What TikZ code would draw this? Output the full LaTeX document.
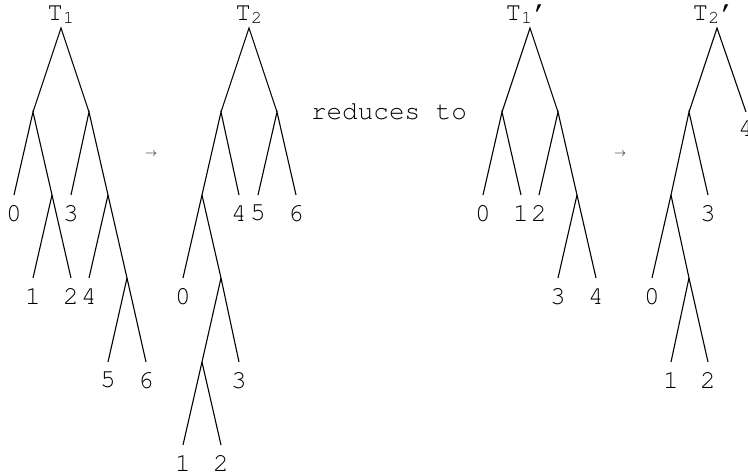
\documentclass[tikz,border=0pt]{standalone}
\usepackage[T1]{fontenc}
\usepackage{courier}
\usepackage{tikz}
\usetikzlibrary{positioning}

\begin{document}
\begin{tikzpicture}[x=1pt, y=-1pt, line width=1.1pt,
    every node/.style={font=\ttfamily\fontsize{26}{30}\selectfont},
    leaf/.style={anchor=north, inner xsep=0pt, inner ysep=1pt, outer ysep=9pt},
    title/.style={anchor=base, inner sep=0pt},
    maps/.style={font=\fontsize{13}{15}\selectfont, inner sep=0pt}]
  \useasboundingbox (0,0) rectangle (748,475);

  % T_1
  \coordinate (ra) at (61,28);
  \coordinate (ra1) at (33,112);
  \coordinate (ra2) at (89,112);
  \coordinate (ra3) at (52,195);
  \coordinate (ra4) at (108,195);
  \coordinate (ra5) at (127,278);
  \node[title] (ta) at (61,20) {T\textsubscript{1}};
  \node[leaf] (a0) at (14,195) {0};
  \node[leaf] (a1) at (33,278) {1};
  \node[leaf] (a2) at (71,278) {2};
  \node[leaf] (a3) at (71,195) {3};
  \node[leaf] (a4) at (89,278) {4};
  \node[leaf] (a5) at (108,362) {5};
  \node[leaf] (a6) at (146,362) {6};
  \draw (ra1) -- (ra) -- (ra2);
  \draw (a0.north) -- (ra1) -- (ra3) -- (a2.north);
  \draw (a1.north) -- (ra3);
  \draw (a3.north) -- (ra2) -- (ra4) -- (ra5) -- (a6.north);
  \draw (a4.north) -- (ra4);
  \draw (a5.north) -- (ra5);

  \node[maps] (m1) at (151,154) {$\rightarrow$};

  % T_2
  \coordinate (rb) at (249,28);
  \coordinate (rb1) at (221,112);
  \coordinate (rb2) at (277,112);
  \coordinate (rb3) at (202,195);
  \coordinate (rb4) at (221,278);
  \coordinate (rb5) at (202,362);
  \node[title] (tb) at (249,20) {T\textsubscript{2}};
  \node[leaf] (b4) at (239,195) {4};
  \node[leaf] (b5) at (258,195) {5};
  \node[leaf] (b6) at (296,195) {6};
  \node[leaf] (b0) at (183,278) {0};
  \node[leaf] (b3) at (239,362) {3};
  \node[leaf] (b1) at (183,445) {1};
  \node[leaf] (b2) at (221,445) {2};
  \draw (rb1) -- (rb) -- (rb2);
  \draw (b4.north) -- (rb1) -- (rb3) -- (b0.north);
  \draw (rb3) -- (rb4) -- (b3.north);
  \draw (rb4) -- (rb5) -- (b1.north);
  \draw (rb5) -- (b2.north);
  \draw (b5.north) -- (rb2) -- (b6.north);

  \node[title] (red) at (389,119) {reduces to};

  % T_1'
  \coordinate (rc) at (530,28);
  \coordinate (rc1) at (502,112);
  \coordinate (rc2) at (558,112);
  \coordinate (rc3) at (577,195);
  \node[title] (tc) at (527,20) {T\textsubscript{1}'};
  \node[leaf] (c0) at (483,195) {0};
  \node[leaf] (c1) at (521,195) {1};
  \node[leaf] (c2) at (539,195) {2};
  \node[leaf] (c3) at (558,278) {3};
  \node[leaf] (c4) at (596,278) {4};
  \draw (rc1) -- (rc) -- (rc2);
  \draw (c0.north) -- (rc1) -- (c1.north);
  \draw (c2.north) -- (rc2) -- (rc3) -- (c4.north);
  \draw (c3.north) -- (rc3);

  \node[maps] (m2) at (620,154) {$\rightarrow$};

  % T_2'
  \coordinate (rd) at (717,28);
  \coordinate (rd1) at (689,112);
  \coordinate (rd2) at (671,195);
  \coordinate (rd3) at (689,278);
  \node[title] (td) at (714,20) {T\textsubscript{2}'};
  \node[leaf, outer ysep=7pt] (d4) at (746,112) {4};
  \node[leaf] (d3) at (708,195) {3};
  \node[leaf] (d0) at (652,278) {0};
  \node[leaf] (d1) at (671,362) {1};
  \node[leaf] (d2) at (708,362) {2};
  \draw (rd1) -- (rd) -- (d4.north);
  \draw (d3.north) -- (rd1) -- (rd2) -- (d0.north);
  \draw (rd2) -- (rd3) -- (d2.north);
  \draw (d1.north) -- (rd3);
\end{tikzpicture}
\end{document}
